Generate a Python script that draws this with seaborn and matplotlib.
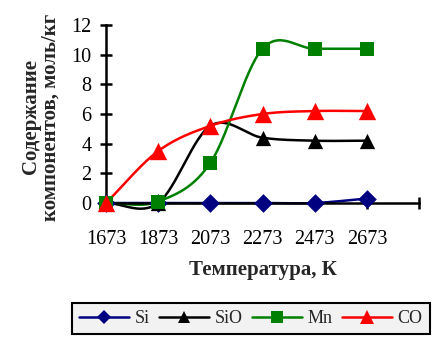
import numpy as np
import pandas as pd
import matplotlib
matplotlib.use("Agg")
import matplotlib.pyplot as plt
import seaborn as sns
from matplotlib.lines import Line2D

temps = ["1673", "1873", "2073", "2273", "2473", "2673"]
si = [0.0, 0.0, 0.0, 0.0, 0.0, 0.3]
sio = [0.0, 0.0, 5.2, 4.4, 4.2, 4.2]
mn = [0.0, 0.1, 2.7, 10.4, 10.4, 10.4]
co = [0.0, 3.5, 5.2, 6.0, 6.2, 6.2]

series_names = ["Si", "SiO", "Mn", "CO"]
series_vals = [si, sio, mn, co]
colors = ["#000080", "#000000", "#008000", "#ff0000"]
markers = ["D", "^", "s", "^"]
msizes = [9.5, 11, 10.5, 12.5]

sns.set_theme(style="white")
plt.rcParams["font.family"] = ["Liberation Serif", "DejaVu Serif"]


def smooth(y, n=30):
    y = np.asarray(y, float)
    x = np.arange(len(y), dtype=float)
    p = np.concatenate([[y[0]], y, [y[-1]]])
    xs, ys = [], []
    for i in range(len(y) - 1):
        p0, p1, p2, p3 = p[i], p[i + 1], p[i + 2], p[i + 3]
        m1 = (p2 - p0) / 2 if i > 0 else (p2 - p1)
        m2 = (p3 - p1) / 2 if i < len(y) - 2 else (p2 - p1)
        t = np.linspace(0, 1, n, endpoint=(i == len(y) - 2))
        h00 = 2 * t**3 - 3 * t**2 + 1
        h10 = t**3 - 2 * t**2 + t
        h01 = -2 * t**3 + 3 * t**2
        h11 = t**3 - t**2
        xs.append(x[i] + t)
        ys.append(h00 * p1 + h10 * m1 + h01 * p2 + h11 * m2)
    return np.concatenate(xs), np.concatenate(ys)


fig = plt.figure(figsize=(4.37, 3.38), dpi=100)
ax = fig.add_axes([106 / 437, 1 - 203 / 338, (419 - 106) / 437, (203 - 25) / 338])

for name, vals, c, m, ms in zip(series_names, series_vals, colors, markers, msizes):
    xs, ys = smooth(vals)
    df = pd.DataFrame({"x": xs, "y": ys})
    sns.lineplot(data=df, x="x", y="y", ax=ax, color=c, linewidth=1.8,
                 sort=False, estimator=None, clip_on=False)
    dfp = pd.DataFrame({"x": np.arange(len(vals)), "y": vals})
    sns.scatterplot(data=dfp, x="x", y="y", ax=ax, color=c, marker=m,
                    s=ms**2, linewidth=0, clip_on=False, zorder=5)

ax.set_xlim(0, 6)
ax.set_ylim(0, 12)
ax.set_xticks(range(7))
ax.set_xticklabels(temps + [""])
ax.set_yticks(range(0, 13, 2))
for s in ["top", "right"]:
    ax.spines[s].set_visible(False)
for s in ["left", "bottom"]:
    ax.spines[s].set_color("black")
    ax.spines[s].set_linewidth(1.8)
ax.tick_params(axis="both", direction="inout", length=9, width=1.8,
               colors="black", labelsize=14.5, left=True, bottom=True)
ax.tick_params(axis="x", pad=15)
ax.tick_params(axis="y", pad=6)
ax.set_facecolor("none")
ax.set_xlabel("Температура, К", fontsize=15, fontweight="bold", labelpad=8)
ax.set_ylabel("")
fig.text(31 / 437, 1 - 117 / 338, "Содержание", rotation=90, ha="center", va="center",
         fontsize=15, fontweight="bold")
fig.text(51 / 437, 1 - 117 / 338, "компонентов, моль/кг", rotation=90, ha="center",
         va="center", fontsize=15, fontweight="bold")

handles = [Line2D([0], [0], color=c, marker=m, markersize=ms * 0.8, linewidth=1.8,
                  markeredgewidth=0)
           for c, m, ms in zip(colors, markers, msizes)]
leg = fig.legend(handles, series_names, loc="upper left",
                 bbox_to_anchor=(72 / 437, 1 - 303 / 338), ncol=4,
                 fontsize=13, frameon=True, fancybox=False, handlelength=2.75,
                 handletextpad=0.3, columnspacing=0.55, borderpad=0.4,
                 borderaxespad=0)
leg.get_frame().set_edgecolor("black")
leg.get_frame().set_linewidth(1.5)
leg.get_frame().set_facecolor("#f2f2f2")
leg.get_frame().set_alpha(1)

fig.savefig("out.png", dpi=100)
